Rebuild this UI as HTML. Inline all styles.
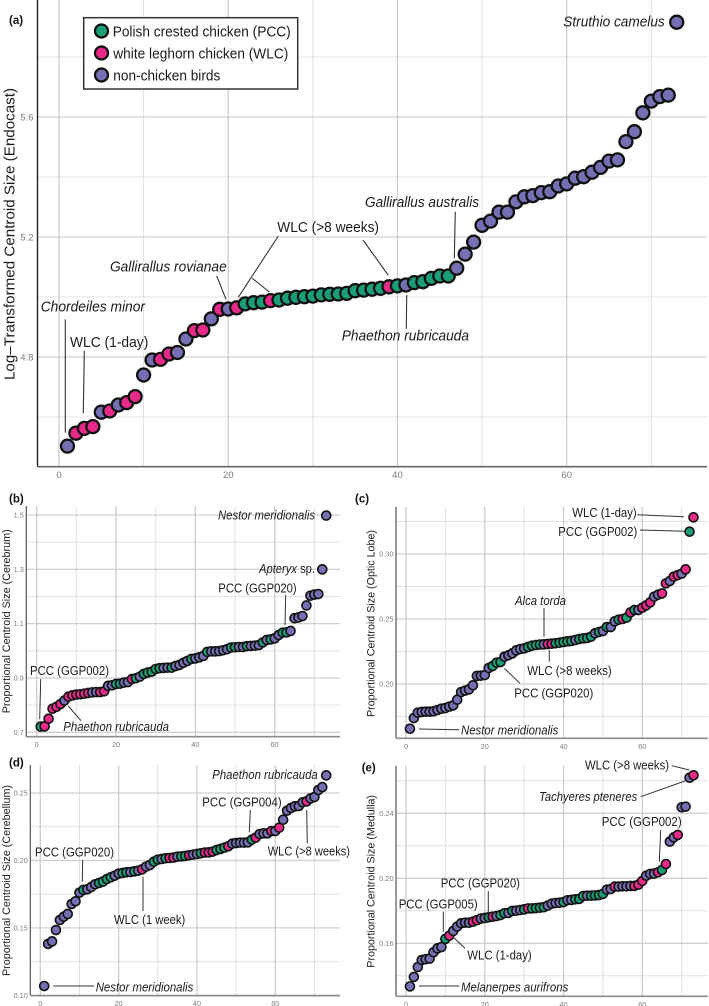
<!DOCTYPE html>
<html lang="en">
<head>
<meta charset="utf-8">
<title>Centroid size rank plots</title>
<style>
html,body{margin:0;padding:0;background:#fff;width:709px;height:1006px;overflow:hidden}
svg{display:block;font-family:"Liberation Sans",sans-serif;filter:blur(0.35px)}
.ann{fill:#1c1c1c}
.it{font-style:italic}
.big{font-size:15px}
.small{font-size:12.5px}
.lead{stroke:#333;stroke-width:1;fill:none}
.lead-big{stroke:#333;stroke-width:1.1;fill:none}
.tag{font-weight:bold;font-size:11.5px;fill:#111}
</style>
</head>
<body>
<svg id="figure" xmlns="http://www.w3.org/2000/svg" width="709" height="1006" viewBox="0 0 709 1006">
<rect x="0" y="0" width="709" height="1006" fill="#fff"/>
<g id="marks"></g>

<g>
<text class="tag" x="9" y="24">(a)</text>
<text class="ann" font-size="15" textLength="292" lengthAdjust="spacingAndGlyphs" transform="translate(14.5,380) rotate(-90)">Log–Transformed Centroid Size (Endocast)</text>
<text class="ann it big" x="563.3" y="26.7" textLength="101.4" lengthAdjust="spacingAndGlyphs">Struthio camelus</text>
<text class="ann it big" x="365" y="207" textLength="114" lengthAdjust="spacingAndGlyphs">Gallirallus australis</text>
<text class="ann big" x="277.3" y="232" textLength="101.7" lengthAdjust="spacingAndGlyphs">WLC (&gt;8 weeks)</text>
<text class="ann it big" x="110" y="271.7" textLength="116.7" lengthAdjust="spacingAndGlyphs">Gallirallus rovianae</text>
<text class="ann it big" x="40.7" y="311.7" textLength="104.3" lengthAdjust="spacingAndGlyphs">Chordeiles minor</text>
<text class="ann big" x="70" y="347" textLength="78.3" lengthAdjust="spacingAndGlyphs">WLC (1-day)</text>
<text class="ann it big" x="341.7" y="340.7" textLength="127.3" lengthAdjust="spacingAndGlyphs">Phaethon rubricauda</text>
<line class="lead-big" x1="65.3" y1="319.3" x2="65.3" y2="432.7"/>
<line class="lead-big" x1="84.3" y1="350.7" x2="83.3" y2="413.3"/>
<line class="lead-big" x1="216.7" y1="276" x2="226" y2="299.3"/>
<line class="lead-big" x1="278.3" y1="236" x2="238.3" y2="297.3"/>
<line class="lead-big" x1="252.3" y1="278.3" x2="269.3" y2="292"/>
<line class="lead-big" x1="363" y1="240" x2="388.3" y2="275.3"/>
<line class="lead-big" x1="455.3" y1="211.7" x2="454.3" y2="258.3"/>
<line class="lead-big" x1="406.7" y1="295" x2="406.3" y2="329"/>
</g>

<g>
<rect x="83.7" y="17.7" width="214" height="71.3" fill="#fff" stroke="#333" stroke-width="1.5"/>
<circle cx="101.5" cy="31" r="6.5" fill="#1b9e77" stroke="#111" stroke-width="2.3"/>
<circle cx="101.5" cy="53" r="6.5" fill="#e7298a" stroke="#111" stroke-width="2.3"/>
<circle cx="101.5" cy="75" r="6.5" fill="#7570b3" stroke="#111" stroke-width="2.3"/>
<text class="ann big" x="112.7" y="36.5" textLength="178" lengthAdjust="spacingAndGlyphs">Polish crested chicken (PCC)</text>
<text class="ann big" x="113.3" y="58.5" textLength="175" lengthAdjust="spacingAndGlyphs">white leghorn chicken (WLC)</text>
<text class="ann big" x="113.3" y="80.5" textLength="107" lengthAdjust="spacingAndGlyphs">non-chicken birds</text>
</g>

<g>
<text class="tag" x="9" y="502.7">(b)</text>
<text class="ann" font-size="11" textLength="184" lengthAdjust="spacingAndGlyphs" transform="translate(10,713.3) rotate(-90)">Proportional Centroid Size (Cerebrum)</text>
<text class="ann it small" x="218" y="519.3" textLength="97" lengthAdjust="spacingAndGlyphs">Nestor meridionalis</text>
<text class="ann small" x="259" y="573" textLength="56" lengthAdjust="spacingAndGlyphs"><tspan class="it">Apteryx</tspan> sp.</text>
<text class="ann small" x="218.3" y="592.7" textLength="78.4" lengthAdjust="spacingAndGlyphs">PCC (GGP020)</text>
<text class="ann small" x="30" y="675" textLength="79" lengthAdjust="spacingAndGlyphs">PCC (GGP002)</text>
<text class="ann it small" x="63.3" y="731" textLength="105.7" lengthAdjust="spacingAndGlyphs">Phaethon rubricauda</text>
<line class="lead" x1="285.7" y1="595" x2="285" y2="625"/>
<line class="lead" x1="40.7" y1="679" x2="39.7" y2="719.3"/>
<line class="lead" x1="68.3" y1="706" x2="81" y2="720.7"/>
</g>

<g>
<text class="tag" x="355" y="502.7">(c)</text>
<text class="ann" font-size="11" textLength="187" lengthAdjust="spacingAndGlyphs" transform="translate(374.7,717) rotate(-90)">Proportional Centroid Size (Optic Lobe)</text>
<text class="ann small" x="572.3" y="517" textLength="64.4" lengthAdjust="spacingAndGlyphs">WLC (1-day)</text>
<text class="ann small" x="558.3" y="536" textLength="79" lengthAdjust="spacingAndGlyphs">PCC (GGP002)</text>
<text class="ann it small" x="515" y="605" textLength="51" lengthAdjust="spacingAndGlyphs">Alca torda</text>
<text class="ann small" x="527.3" y="675" textLength="84.4" lengthAdjust="spacingAndGlyphs">WLC (&gt;8 weeks)</text>
<text class="ann small" x="514.3" y="697.3" textLength="79" lengthAdjust="spacingAndGlyphs">PCC (GGP020)</text>
<text class="ann it small" x="461" y="734.3" textLength="97.3" lengthAdjust="spacingAndGlyphs">Nestor meridionalis</text>
<line class="lead" x1="637.3" y1="514.7" x2="684" y2="516.7"/>
<line class="lead" x1="640" y1="530" x2="684.3" y2="531.3"/>
<line class="lead" x1="544" y1="608.3" x2="544" y2="636.7"/>
<line class="lead" x1="549.3" y1="650" x2="549.3" y2="661.7"/>
<line class="lead" x1="504.3" y1="668.3" x2="520" y2="683.3"/>
<line class="lead" x1="419" y1="729" x2="459.3" y2="729.7"/>
</g>

<g>
<text class="tag" x="9" y="766.7">(d)</text>
<text class="ann" font-size="11" textLength="191" lengthAdjust="spacingAndGlyphs" transform="translate(10,976) rotate(-90)">Proportional Centroid Size (Cerebellum)</text>
<text class="ann it small" x="212.3" y="779" textLength="105.4" lengthAdjust="spacingAndGlyphs">Phaethon rubricauda</text>
<text class="ann small" x="202.3" y="806.7" textLength="79.4" lengthAdjust="spacingAndGlyphs">PCC (GGP004)</text>
<text class="ann small" x="267.7" y="855.7" textLength="82.3" lengthAdjust="spacingAndGlyphs">WLC (&gt;8 weeks)</text>
<text class="ann small" x="35" y="856.7" textLength="79" lengthAdjust="spacingAndGlyphs">PCC (GGP020)</text>
<text class="ann small" x="114" y="924" textLength="71.3" lengthAdjust="spacingAndGlyphs">WLC (1 week)</text>
<text class="ann it small" x="95.7" y="991.7" textLength="97.6" lengthAdjust="spacingAndGlyphs">Nestor meridionalis</text>
<line class="lead" x1="250.3" y1="810" x2="249.3" y2="832.3"/>
<line class="lead" x1="306.7" y1="810" x2="307.3" y2="843.3"/>
<line class="lead" x1="82.7" y1="860" x2="82.3" y2="881.7"/>
<line class="lead" x1="143" y1="876.7" x2="143" y2="911"/>
<line class="lead" x1="53.3" y1="986" x2="94" y2="986"/>
</g>

<g>
<text class="tag" x="361.7" y="771.7">(e)</text>
<text class="ann" font-size="11" textLength="172.7" lengthAdjust="spacingAndGlyphs" transform="translate(374.7,967.7) rotate(-90)">Proportional Centroid Size (Medulla)</text>
<text class="ann small" x="585" y="769.3" textLength="84" lengthAdjust="spacingAndGlyphs">WLC (&gt;8 weeks)</text>
<text class="ann it small" x="539" y="801" textLength="98.3" lengthAdjust="spacingAndGlyphs">Tachyeres pteneres</text>
<text class="ann small" x="601.7" y="826" textLength="80" lengthAdjust="spacingAndGlyphs">PCC (GGP002)</text>
<text class="ann small" x="440.7" y="887.3" textLength="79.3" lengthAdjust="spacingAndGlyphs">PCC (GGP020)</text>
<text class="ann small" x="398.7" y="908.3" textLength="79" lengthAdjust="spacingAndGlyphs">PCC (GGP005)</text>
<text class="ann small" x="467.3" y="959.3" textLength="64.4" lengthAdjust="spacingAndGlyphs">WLC (1-day)</text>
<text class="ann it small" x="461" y="991.7" textLength="107.3" lengthAdjust="spacingAndGlyphs">Melanerpes aurifrons</text>
<line class="lead" x1="671.7" y1="765.7" x2="689.3" y2="770"/>
<line class="lead" x1="640.7" y1="796.7" x2="685" y2="781"/>
<line class="lead" x1="660.7" y1="830" x2="659.3" y2="861.7"/>
<line class="lead" x1="488.3" y1="891" x2="488.3" y2="913"/>
<line class="lead" x1="443.3" y1="911.7" x2="443.3" y2="931.7"/>
<line class="lead" x1="454.3" y1="938.3" x2="465" y2="948.3"/>
<line class="lead" x1="419" y1="986" x2="459.3" y2="986"/>
</g>
</svg>

<script>
// Shared x axis
var xTickValues = [0, 20, 40, 60];
var xTickLabels = ['0', '20', '40', '60'];
var xMinorValues = [10, 30, 50, 70];

// Panel (a) Log-transformed centroid size, endocast
var panelAYTicks = [5.6, 5.2, 4.8];
var panelAYLabels = ['5.6', '5.2', '4.8'];
var panelAYMinor = [5.8, 5.4, 5.0, 4.6];
var panelAValues = [
4.503,4.546,4.562,4.568,4.616,4.620,4.640,4.648,4.668,4.740,
4.790,4.792,4.810,4.815,4.860,4.888,4.890,4.927,4.959,4.960,
4.964,4.977,4.981,4.983,4.988,4.990,4.996,4.999,5.001,5.003,
5.007,5.009,5.010,5.012,5.021,5.023,5.026,5.029,5.034,5.037,
5.040,5.048,5.051,5.062,5.070,5.070,5.096,5.143,5.183,5.239,
5.253,5.283,5.283,5.317,5.334,5.338,5.348,5.351,5.370,5.377,
5.396,5.401,5.416,5.432,5.453,5.457,5.518,5.551,5.614,5.653,
5.668,5.673,5.916];
var panelAGroups = [
'N','W','W','W','N','W','N','W','W','N',
'N','W','W','N','N','W','W','N','W','N',
'W','P','P','P','W','P','P','P','P','P',
'P','P','P','P','P','P','P','P','W','P',
'N','P','P','P','P','P','N','N','N','N',
'N','N','N','N','N','N','N','N','N','N',
'N','N','N','N','N','N','N','N','N','N',
'N','N','N'];

// Panel (b) Proportional centroid size, cerebrum
var panelBYTicks = [1.5, 1.3, 1.1, 0.9, 0.7];
var panelBYLabels = ['1.5', '1.3', '1.1', '0.9', '0.7'];
var panelBYMinor = [1.4, 1.2, 1.0, 0.8];
var panelBValues = [
0.721,0.722,0.750,0.787,0.794,0.804,0.817,0.831,0.836,0.839,
0.840,0.842,0.845,0.847,0.848,0.848,0.851,0.871,0.873,0.878,
0.879,0.883,0.885,0.896,0.899,0.905,0.915,0.920,0.923,0.933,
0.936,0.937,0.938,0.938,0.944,0.948,0.956,0.963,0.970,0.972,
0.976,0.981,0.996,0.998,0.998,0.999,1.002,1.006,1.012,1.013,
1.014,1.014,1.017,1.018,1.019,1.021,1.031,1.040,1.042,1.046,
1.058,1.067,1.068,1.073,1.120,1.123,1.128,1.167,1.203,1.207,
1.209,1.300,1.498];
var panelBGroups = [
'P','W','W','W','W','W','N','W','W','W',
'W','W','W','N','N','W','W','N','N','P',
'P','N','N','W','P','N','P','P','P','P',
'P','N','N','P','N','N','N','N','P','N',
'N','N','P','N','N','N','N','N','P','P',
'N','N','P','N','N','N','P','N','P','N',
'N','P','P','N','N','N','N','N','N','N',
'N','N','N'];

// Panel (c) Proportional centroid size, optic lobe
var panelCYTicks = [0.30, 0.25, 0.20];
var panelCYLabels = ['0.30', '0.25', '0.20'];
var panelCYMinor = [0.325, 0.275, 0.225, 0.175];
var panelCValues = [
0.1656,0.1738,0.1779,0.1785,0.1787,0.1787,0.1790,0.1800,0.1810,0.1815,
0.1826,0.1836,0.1879,0.1938,0.1949,0.1959,0.1990,0.2062,0.2064,0.2069,
0.2123,0.2138,0.2164,0.2169,0.2210,0.2221,0.2236,0.2259,0.2269,0.2274,
0.2285,0.2295,0.2300,0.2303,0.2305,0.2308,0.2310,0.2313,0.2318,0.2323,
0.2328,0.2331,0.2338,0.2346,0.2351,0.2354,0.2364,0.2390,0.2400,0.2408,
0.2438,0.2438,0.2482,0.2495,0.2500,0.2510,0.2551,0.2569,0.2569,0.2587,
0.2605,0.2628,0.2672,0.2687,0.2697,0.2774,0.2792,0.2826,0.2838,0.2849,
0.2882,0.3172,0.3282];
var panelCGroups = [
'N','N','N','N','N','N','N','N','N','N',
'N','N','N','N','N','N','N','N','N','N',
'N','P','P','P','N','N','N','N','N','N',
'P','P','P','P','N','W','W','P','P','P',
'P','P','N','P','P','P','P','N','P','N',
'P','N','N','P','W','P','W','P','N','W',
'W','W','N','N','W','W','N','W','W','N',
'W','P','W'];

// Panel (d) Proportional centroid size, cerebellum
var panelDYTicks = [0.25, 0.20, 0.15, 0.10];
var panelDYLabels = ['0.25', '0.20', '0.15', '0.10'];
var panelDYMinor = [0.225, 0.175, 0.125];
var panelDValues = [
0.1069,0.1381,0.1400,0.1484,0.1558,0.1583,0.1603,0.1677,0.1697,0.1761,
0.1781,0.1786,0.1803,0.1823,0.1833,0.1843,0.1862,0.1875,0.1887,0.1902,
0.1907,0.1912,0.1914,0.1919,0.1924,0.1934,0.1954,0.1966,0.1991,0.2006,
0.2011,0.2016,0.2018,0.2021,0.2028,0.2030,0.2033,0.2038,0.2043,0.2048,
0.2053,0.2058,0.2060,0.2065,0.2077,0.2085,0.2095,0.2105,0.2124,0.2129,
0.2132,0.2132,0.2134,0.2154,0.2169,0.2196,0.2201,0.2201,0.2218,0.2218,
0.2243,0.2302,0.2369,0.2389,0.2401,0.2404,0.2431,0.2438,0.2460,0.2470,
0.2522,0.2544,0.2631];
var panelDGroups = [
'N','N','N','N','N','N','N','N','N','N',
'P','N','N','N','P','P','P','P','N','N',
'P','P','N','P','N','W','N','N','P','P',
'N','P','W','W','N','P','P','W','N','N',
'P','W','W','W','P','P','P','W','N','N',
'N','N','N','P','W','N','N','N','W','N',
'W','N','N','N','N','N','N','W','N','N',
'N','N','N'];

// Panel (e) Proportional centroid size, medulla
var panelEYTicks = [0.24, 0.20, 0.16];
var panelEYLabels = ['0.24', '0.20', '0.16'];
var panelEYMinor = [0.26, 0.22, 0.18, 0.14];
var panelEValues = [
0.1335,0.1393,0.1454,0.1497,0.1502,0.1506,0.1545,0.1569,0.1577,0.1627,
0.1647,0.1676,0.1703,0.1723,0.1727,0.1727,0.1733,0.1742,0.1752,0.1756,
0.1760,0.1764,0.1768,0.1774,0.1785,0.1787,0.1799,0.1801,0.1805,0.1809,
0.1815,0.1815,0.1817,0.1819,0.1822,0.1832,0.1844,0.1848,0.1850,0.1854,
0.1865,0.1867,0.1871,0.1873,0.1891,0.1893,0.1893,0.1895,0.1897,0.1904,
0.1930,0.1934,0.1949,0.1949,0.1951,0.1951,0.1953,0.1953,0.1961,0.1984,
0.2016,0.2027,0.2029,0.2037,0.2051,0.2088,0.2226,0.2252,0.2267,0.2437,
0.2441,0.2619,0.2634];
var panelEGroups = [
'N','N','N','N','N','N','N','N','N','P',
'W','N','N','N','N','N','W','W','N','N',
'P','W','N','P','P','N','P','N','N','P',
'W','P','P','P','P','N','N','N','N','P',
'N','N','P','P','P','N','P','P','P','P',
'N','N','W','N','N','N','N','W','W','W',
'N','N','N','W','P','W','N','N','W','N',
'N','N','W'];

var groupColours = { P: '#1b9e77', W: '#e7298a', N: '#7570b3' };
var NS = 'http://www.w3.org/2000/svg';
var marksRoot = document.getElementById('marks');

function svgEl(tag, attrs, parent) {
  var el = document.createElementNS(NS, tag);
  for (var k in attrs) { el.setAttribute(k, attrs[k]); }
  parent.appendChild(el);
  return el;
}
function linearScale(d0, r0, d1, r1) {
  return function (v) { return r0 + (v - d0) * (r1 - r0) / (d1 - d0); };
}

function drawPanel(p) {
  var x = linearScale(0, p.x0, 60, p.x60);
  var y = linearScale(p.yA, p.pyA, p.yB, p.pyB);
  var g = svgEl('g', {}, marksRoot);
  
  

  // grid
  p.yMinor.forEach(function (v) {
    var l = svgEl('line', { x1: p.left, x2: p.right, y1: y(v), y2: y(v), stroke: '#e3e3e3', 'stroke-width': 1 }, g);
    
    
  });
  xMinorValues.forEach(function (v) {
    var l = svgEl('line', { x1: x(v), x2: x(v), y1: p.top, y2: p.bottom, stroke: '#e0e0e0', 'stroke-width': 1 }, g);
    
    
  });
  p.yTicks.forEach(function (v) {
    var l = svgEl('line', { x1: p.left, x2: p.right, y1: y(v), y2: y(v), stroke: '#d0d0d0', 'stroke-width': 1.3 }, g);
    
    
  });
  xTickValues.forEach(function (v) {
    var l = svgEl('line', { x1: x(v), x2: x(v), y1: p.top, y2: p.bottom, stroke: '#cdcdcd', 'stroke-width': 1.3 }, g);
    
    
  });

  // axis spines
  var sy = svgEl('line', { x1: p.left, x2: p.left, y1: p.top, y2: p.bottom, stroke: p.big ? '#222' : '#555', 'stroke-width': p.big ? 1.4 : 1.2 }, g);
  
  
  var sx = svgEl('line', { x1: p.left, x2: p.right, y1: p.bottom, y2: p.bottom, stroke: p.big ? '#666' : '#8c8c8c', 'stroke-width': 1.6 }, g);
  
  

  // tick labels
  p.yTicks.forEach(function (v, i) {
    var t = svgEl('text', { x: p.left - (p.big ? 4 : 2.5), y: y(v) + (p.big ? 3.3 : 2.5), 'text-anchor': 'end', 'font-size': p.big ? 9.5 : 7.3, fill: '#7d7d7d' }, g);
    
    
    t.textContent = p.yLabels[i];
  });
  xTickValues.forEach(function (v, i) {
    var t = svgEl('text', { x: x(v), y: p.bottom + (p.big ? 11.5 : 10.5), 'text-anchor': 'middle', 'font-size': p.big ? 9.5 : 7.3, fill: '#7d7d7d' }, g);
    
    
    t.textContent = xTickLabels[i];
  });

  // points, in rank order so later points overlap earlier ones
  p.values.forEach(function (v, i) {
    var c = svgEl('circle', { cx: x(i + 1), cy: y(v), r: p.big ? 6.5 : 4.5, fill: groupColours[p.groups[i]], stroke: '#111', 'stroke-width': p.big ? 2.3 : 1.6 }, g);
    
    
  });
}

drawPanel({ id: 'a', big: true, left: 37.5, right: 707, top: 0, bottom: 466.7, x0: 59, x60: 566.7, yA: 5.6, pyA: 117, yB: 4.8, pyB: 357,
  yTicks: panelAYTicks, yLabels: panelAYLabels, yMinor: panelAYMinor, values: panelAValues, groups: panelAGroups });
drawPanel({ id: 'b', big: false, left: 26.3, right: 340, top: 506, bottom: 736.7, x0: 36.7, x60: 274.7, yA: 1.5, pyA: 515, yB: 0.7, pyB: 732.3,
  yTicks: panelBYTicks, yLabels: panelBYLabels, yMinor: panelBYMinor, values: panelBValues, groups: panelBGroups });
drawPanel({ id: 'c', big: false, left: 396, right: 708, top: 506.7, bottom: 738.3, x0: 406, x60: 642.3, yA: 0.30, pyA: 554, yB: 0.20, pyB: 684,
  yTicks: panelCYTicks, yLabels: panelCYLabels, yMinor: panelCYMinor, values: panelCValues, groups: panelCGroups });
drawPanel({ id: 'd', big: false, left: 30.3, right: 340, top: 765, bottom: 995.7, x0: 40.3, x60: 275.3, yA: 0.25, pyA: 793, yB: 0.10, pyB: 995.3,
  yTicks: panelDYTicks, yLabels: panelDYLabels, yMinor: panelDYMinor, values: panelDValues, groups: panelDGroups });
drawPanel({ id: 'e', big: false, left: 396, right: 708, top: 765.7, bottom: 996.3, x0: 406, x60: 642.3, yA: 0.24, pyA: 813.3, yB: 0.16, pyB: 943.3,
  yTicks: panelEYTicks, yLabels: panelEYLabels, yMinor: panelEYMinor, values: panelEValues, groups: panelEGroups });
</script>
</body>
</html>
